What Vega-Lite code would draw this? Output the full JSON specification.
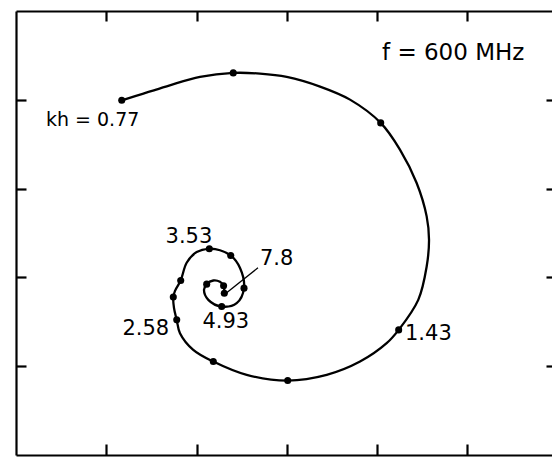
{
  "$schema": "https://vega.github.io/schema/vega-lite/v6.json",
  "autosize": "none",
  "padding": {"left": 16, "top": 11, "right": 0, "bottom": 3},
  "width": 536,
  "height": 444,
  "background": "white",
  "config": {"view": {"stroke": null}, "font": "DejaVu Sans"},
  "datasets": {
    "curve": [
      {"i": 1, "x": 1.171, "y": 3.994},
      {"i": 2, "x": 1.669, "y": 4.152},
      {"i": 3, "x": 2.038, "y": 4.258},
      {"i": 4, "x": 2.406, "y": 4.303},
      {"i": 5, "x": 2.702, "y": 4.295},
      {"i": 6, "x": 2.998, "y": 4.258},
      {"i": 7, "x": 3.367, "y": 4.149},
      {"i": 8, "x": 3.699, "y": 4.002},
      {"i": 9, "x": 4.039, "y": 3.740},
      {"i": 10, "x": 4.252, "y": 3.439},
      {"i": 11, "x": 4.437, "y": 3.063},
      {"i": 12, "x": 4.548, "y": 2.687},
      {"i": 13, "x": 4.574, "y": 2.424},
      {"i": 14, "x": 4.548, "y": 2.123},
      {"i": 15, "x": 4.455, "y": 1.747},
      {"i": 16, "x": 4.238, "y": 1.409},
      {"i": 17, "x": 4.105, "y": 1.259},
      {"i": 18, "x": 3.810, "y": 1.052},
      {"i": 19, "x": 3.441, "y": 0.902},
      {"i": 20, "x": 3.009, "y": 0.838},
      {"i": 21, "x": 2.555, "y": 0.902},
      {"i": 22, "x": 2.185, "y": 1.052},
      {"i": 23, "x": 1.963, "y": 1.184},
      {"i": 24, "x": 1.816, "y": 1.372},
      {"i": 25, "x": 1.780, "y": 1.522},
      {"i": 26, "x": 1.750, "y": 1.654},
      {"i": 27, "x": 1.742, "y": 1.778},
      {"i": 28, "x": 1.761, "y": 1.849},
      {"i": 29, "x": 1.824, "y": 1.965},
      {"i": 30, "x": 1.890, "y": 2.165},
      {"i": 31, "x": 2.001, "y": 2.285},
      {"i": 32, "x": 2.141, "y": 2.322},
      {"i": 33, "x": 2.259, "y": 2.306},
      {"i": 34, "x": 2.378, "y": 2.247},
      {"i": 35, "x": 2.481, "y": 2.105},
      {"i": 36, "x": 2.525, "y": 1.879},
      {"i": 37, "x": 2.444, "y": 1.710},
      {"i": 38, "x": 2.278, "y": 1.672},
      {"i": 39, "x": 2.130, "y": 1.747},
      {"i": 40, "x": 2.082, "y": 1.860},
      {"i": 41, "x": 2.112, "y": 1.924},
      {"i": 42, "x": 2.185, "y": 1.965},
      {"i": 43, "x": 2.259, "y": 1.950},
      {"i": 44, "x": 2.299, "y": 1.905},
      {"i": 45, "x": 2.307, "y": 1.821}
    ],
    "points": [
      {"x": 1.171, "y": 3.994},
      {"x": 2.406, "y": 4.303},
      {"x": 4.039, "y": 3.740},
      {"x": 4.238, "y": 1.409},
      {"x": 3.009, "y": 0.838},
      {"x": 2.185, "y": 1.052},
      {"x": 1.780, "y": 1.522},
      {"x": 1.742, "y": 1.778},
      {"x": 1.824, "y": 1.965},
      {"x": 2.141, "y": 2.322},
      {"x": 2.378, "y": 2.247},
      {"x": 2.525, "y": 1.879},
      {"x": 2.278, "y": 1.672},
      {"x": 2.112, "y": 1.924},
      {"x": 2.299, "y": 1.905},
      {"x": 2.307, "y": 1.821}
    ],
    "labels": [
      {"x": 0.332, "y": 3.709, "text": "kh = 0.77", "size": 19},
      {"x": 4.053, "y": 4.453, "text": "f = 600 MHz", "size": 23},
      {"x": 1.656, "y": 2.390, "text": "3.53", "size": 21},
      {"x": 2.702, "y": 2.142, "text": "7.8", "size": 21},
      {"x": 1.179, "y": 1.353, "text": "2.58", "size": 21},
      {"x": 2.065, "y": 1.432, "text": "4.93", "size": 21},
      {"x": 4.308, "y": 1.296, "text": "1.43", "size": 21}
    ],
    "leader": [
      {"x": 2.333, "y": 1.826, "x2": 2.680, "y2": 2.108}
    ]
  },
  "resolve": {"axis": {"x": "independent", "y": "independent"}},
  "layer": [
    {
      "data": {"name": "curve"},
      "mark": {"type": "line", "interpolate": "catmull-rom", "color": "black", "strokeWidth": 2.3},
      "encoding": {
        "x": {"field": "x", "type": "quantitative", "scale": {"domain": [0, 5.936], "nice": false, "zero": false},
              "axis": {"orient": "bottom", "values": [1, 2, 3, 4, 5], "labels": false, "title": null, "grid": false,
                       "tickSize": -11, "tickWidth": 2.2, "tickColor": "black", "domainColor": "black", "domainWidth": 2.2}},
        "y": {"field": "y", "type": "quantitative", "scale": {"domain": [0, 5], "nice": false, "zero": false},
              "axis": {"orient": "left", "values": [1, 2, 3, 4], "labels": false, "title": null, "grid": false,
                       "tickSize": -10, "tickWidth": 2.2, "tickColor": "black", "domainColor": "black", "domainWidth": 2.2}},
        "order": {"field": "i", "type": "quantitative"}
      }
    },
    {
      "data": {"name": "points"},
      "mark": {"type": "circle", "color": "black", "opacity": 1, "size": 50},
      "encoding": {
        "x": {"field": "x", "type": "quantitative",
              "axis": {"orient": "top", "values": [1, 2, 3, 4, 5], "labels": false, "title": null, "grid": false,
                       "tickSize": -10, "tickWidth": 2.2, "tickColor": "black", "domainColor": "black", "domainWidth": 2.2}},
        "y": {"field": "y", "type": "quantitative",
              "axis": {"orient": "right", "values": [1, 2, 3, 4], "labels": false, "title": null, "grid": false,
                       "tickSize": -6, "tickWidth": 2.2, "tickColor": "black", "domain": false}}
      }
    },
    {
      "data": {"name": "leader"},
      "mark": {"type": "rule", "color": "black", "strokeWidth": 1.3},
      "encoding": {
        "x": {"field": "x", "type": "quantitative", "axis": null},
        "y": {"field": "y", "type": "quantitative", "axis": null},
        "x2": {"field": "x2"},
        "y2": {"field": "y2"}
      }
    },
    {
      "data": {"name": "labels"},
      "mark": {"type": "text", "align": "left", "baseline": "alphabetic", "color": "black", "font": "DejaVu Sans"},
      "encoding": {
        "x": {"field": "x", "type": "quantitative", "axis": null},
        "y": {"field": "y", "type": "quantitative", "axis": null},
        "text": {"field": "text"},
        "size": {"field": "size", "type": "quantitative", "scale": null}
      }
    }
  ]
}
